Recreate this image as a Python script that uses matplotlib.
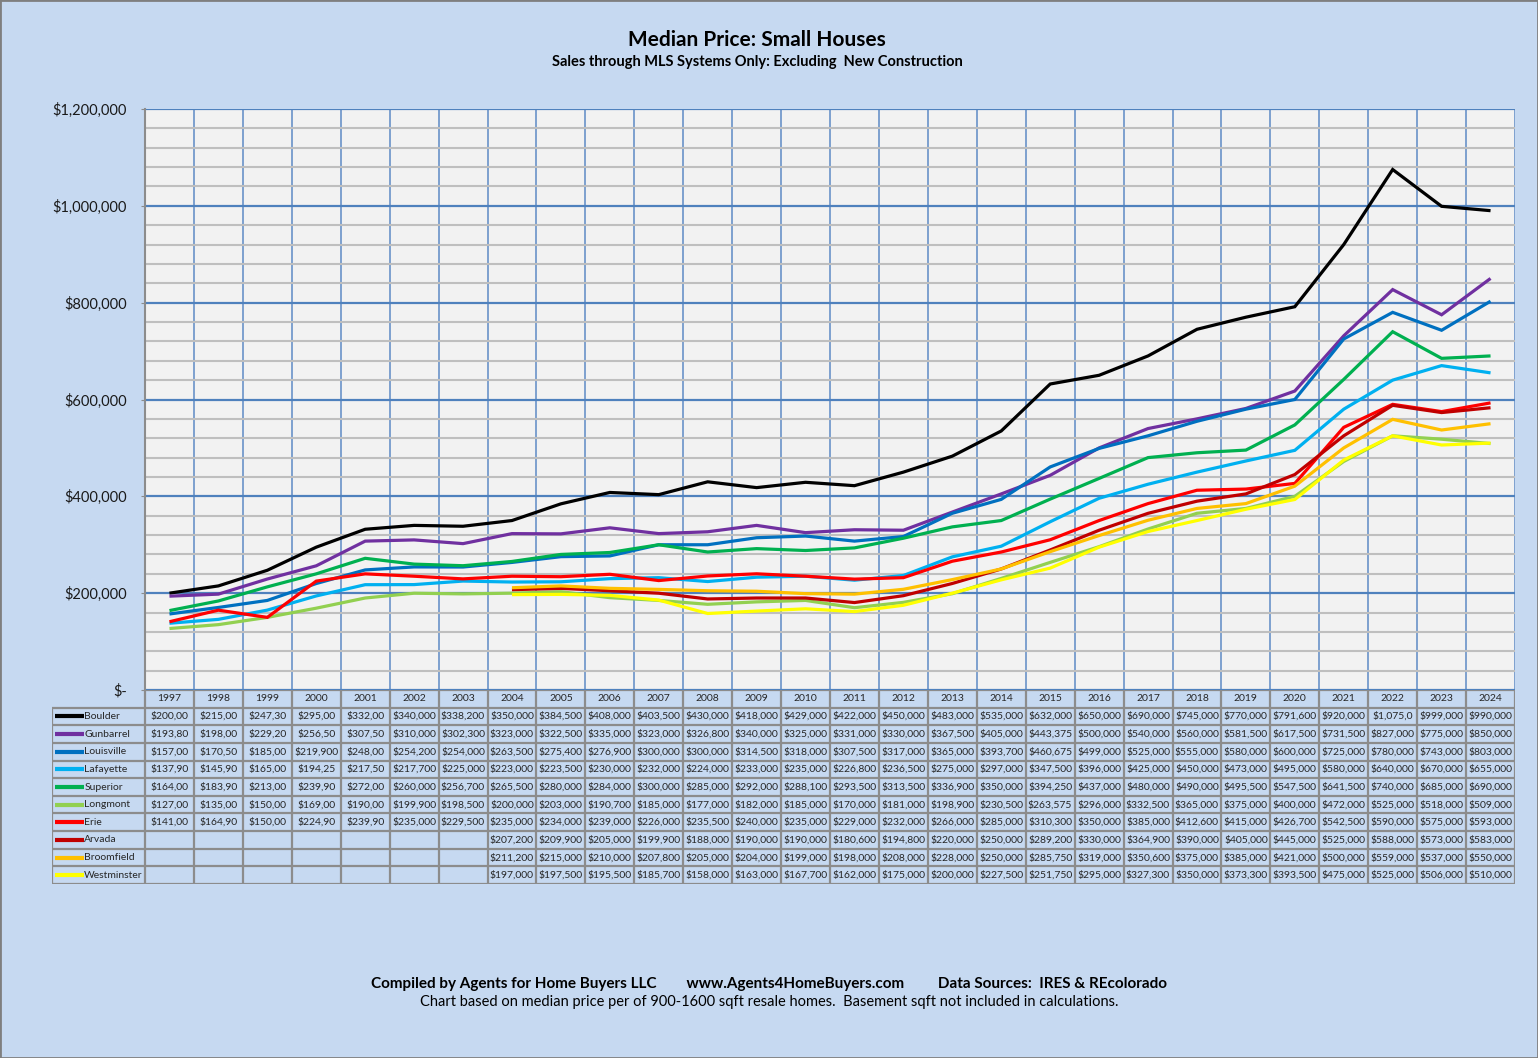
import numpy as np
import matplotlib
matplotlib.use("Agg")
import matplotlib.pyplot as plt
from matplotlib.ticker import MultipleLocator, FuncFormatter
from matplotlib.patches import Rectangle

plt.rcParams['font.family'] = ['Liberation Sans Narrow', 'Lato', 'DejaVu Sans']

years = list(range(1997, 2025))
nan = np.nan
pad = [nan] * 7  # 1997-2003 have no data for the later towns

boulder = [200000, 215000, 247300, 295000, 332000, 340000, 338200, 350000, 384500, 408000,
           403500, 430000, 418000, 429000, 422000, 450000, 483000, 535000, 632000, 650000,
           690000, 745000, 770000, 791600, 920000, 1075000, 999000, 990000]
gunbarrel = [193800, 198000, 229200, 256500, 307500, 310000, 302300, 323000, 322500, 335000,
             323000, 326800, 340000, 325000, 331000, 330000, 367500, 405000, 443375, 500000,
             540000, 560000, 581500, 617500, 731500, 827000, 775000, 850000]
louisville = [157000, 170500, 185000, 219900, 248000, 254200, 254000, 263500, 275400, 276900,
              300000, 300000, 314500, 318000, 307500, 317000, 365000, 393700, 460675, 499000,
              525000, 555000, 580000, 600000, 725000, 780000, 743000, 803000]
lafayette = [137900, 145900, 165000, 194250, 217500, 217700, 225000, 223000, 223500, 230000,
             232000, 224000, 233000, 235000, 226800, 236500, 275000, 297000, 347500, 396000,
             425000, 450000, 473000, 495000, 580000, 640000, 670000, 655000]
superior = [164000, 183900, 213000, 239900, 272000, 260000, 256700, 265500, 280000, 284000,
            300000, 285000, 292000, 288100, 293500, 313500, 336900, 350000, 394250, 437000,
            480000, 490000, 495500, 547500, 641500, 740000, 685000, 690000]
longmont = [127000, 135000, 150000, 169000, 190000, 199900, 198500, 200000, 203000, 190700,
            185000, 177000, 182000, 185000, 170000, 181000, 198900, 230500, 263575, 296000,
            332500, 365000, 375000, 400000, 472000, 525000, 518000, 509000]
erie = [141000, 164900, 150000, 224900, 239900, 235000, 229500, 235000, 234000, 239000,
        226000, 235500, 240000, 235000, 229000, 232000, 266000, 285000, 310300, 350000,
        385000, 412600, 415000, 426700, 542500, 590000, 575000, 593000]
arvada = pad + [207200, 209900, 205000, 199900, 188000, 190000, 190000, 180600, 194800, 220000,
                250000, 289200, 330000, 364900, 390000, 405000, 445000, 525000, 588000, 573000, 583000]
broomfield = pad + [211200, 215000, 210000, 207800, 205000, 204000, 199000, 198000, 208000, 228000,
                    250000, 285750, 319000, 350600, 375000, 385000, 421000, 500000, 559000, 537000, 550000]
westminster = pad + [197000, 197500, 195500, 185700, 158000, 163000, 167700, 162000, 175000, 200000,
                     227500, 251750, 295000, 327300, 350000, 373300, 393500, 475000, 525000, 506000, 510000]

names = ["Boulder", "Gunbarrel", "Louisville", "Lafayette", "Superior",
         "Longmont", "Erie", "Arvada", "Broomfield", "Westminster"]
series = [boulder, gunbarrel, louisville, lafayette, superior,
          longmont, erie, arvada, broomfield, westminster]
colors = ["#000000", "#7030A0", "#0070C0", "#00B0F0", "#00B050",
          "#92D050", "#FF0000", "#C00000", "#FFC000", "#FFFF00"]

BG = "#C6D9F1"
GRID_BLUE = "#4F81BD"
EDGE = "#8C8C8C"

W, H = 1538, 1058
fig = plt.figure(figsize=(W / 100, H / 100), dpi=100, facecolor=BG)
fig.patches.append(Rectangle((0, 0), 1, 1, transform=fig.transFigure, fill=False,
                             edgecolor="#7F7F7F", linewidth=2))

# plot area (pixel box 145..1515 x 109..690)
px_l, px_r, px_t, px_b = 145, 1515, 109, 690
ax = fig.add_axes([px_l / W, (H - px_b) / H, (px_r - px_l) / W, (px_b - px_t) / H])
ax.set_facecolor("#F2F2F2")
x = np.arange(len(years))
for name, vals, c in zip(names, series, colors):
    ax.plot(x, np.array(vals, dtype=float), color=c, lw=2.3, solid_capstyle="butt",
            solid_joinstyle="miter", label=name, zorder=3)

ax.set_xlim(-0.5, len(years) - 0.5)
ax.set_ylim(0, 1200000)
ax.yaxis.set_major_locator(MultipleLocator(200000))
ax.yaxis.set_minor_locator(MultipleLocator(40000))
ax.yaxis.set_major_formatter(FuncFormatter(lambda v, p: "$-" if v == 0 else f"${v:,.0f}"))
ax.set_xticks(np.arange(-0.5, len(years), 1), minor=False)
ax.set_xticklabels([])
ax.tick_params(axis="x", length=0)
ax.tick_params(axis="y", which="major", length=3, color=EDGE, labelsize=10.5, pad=10,
               labelcolor="#1a1a1a")
ax.tick_params(axis="y", which="minor", length=0)
ax.grid(axis="y", which="minor", color="#BFBFBF", lw=1.5, zorder=1)
ax.grid(axis="y", which="major", color=GRID_BLUE, lw=1.6, zorder=2)
ax.grid(axis="x", which="major", color="#6A93C9", lw=1.2, zorder=2)
for s in ["top", "right"]:
    ax.spines[s].set_visible(False)
ax.spines["left"].set_color(EDGE)
ax.spines["left"].set_linewidth(1.5)
ax.spines["bottom"].set_visible(False)

# data table underneath, drawn on an axes sharing the same category scale
tb_l, tb_b = 52, 884
n_rows = len(names) + 1
cat_px = (px_r - px_l) / len(years)
x_left = -0.5 - (px_l - tb_l) / cat_px
tax = fig.add_axes([tb_l / W, (H - tb_b) / H, (px_r - tb_l) / W, (tb_b - px_b) / H])
tax.set_xlim(x_left, len(years) - 0.5)
tax.set_ylim(n_rows, 0)
tax.axis("off")
tax.add_patch(Rectangle((-0.5, 0), len(years), 1, facecolor=BG, edgecolor="none"))
tax.add_patch(Rectangle((x_left, 1), len(years) - 0.5 - x_left, n_rows - 1,
                        facecolor=BG, edgecolor="none"))
lw_t = 1.6
tax.hlines(0, -0.5, len(years) - 0.5, color=EDGE, lw=lw_t)
tax.hlines(np.arange(1, n_rows + 1), x_left, len(years) - 0.5, color=EDGE, lw=lw_t)
tax.vlines(np.arange(-0.5, len(years)), 0, n_rows, color=EDGE, lw=lw_t)
tax.vlines(x_left, 1, n_rows, color=EDGE, lw=lw_t)

fs_t = 7.5
for i, yr in enumerate(years):
    tax.text(i, 0.5, str(yr), ha="center", va="center", fontsize=fs_t, color="#262626")

for r, (name, vals, c) in enumerate(zip(names, series, colors), start=1):
    tax.plot([x_left + 0.07, x_left + 0.65], [r + 0.5, r + 0.5], color=c, lw=3,
             solid_capstyle="butt")
    tax.text(x_left + 0.66, r + 0.5, name, ha="left", va="center", fontsize=fs_t,
             color="#262626")
    for i, v in enumerate(vals):
        if np.isnan(v):
            continue
        s = f"${v:,.0f}"
        # the source table clips the early columns and the widest value
        if years[i] <= 2001 and not (name == "Louisville" and years[i] == 2000):
            s = s[:7]
        s = s[:8]
        tax.text(i, r + 0.5, s, ha="center", va="center", fontsize=fs_t, color="#262626")

# titles and footer
cx = 757 / W
fig.text(cx, 1 - 40 / H, "Median Price: Small Houses", ha="center", va="center",
         fontsize=15, fontweight="bold", color="#000000")
fig.text(cx, 1 - 62 / H, "Sales through MLS Systems Only: Excluding  New Construction",
         ha="center", va="center", fontsize=10.5, fontweight="bold", color="#000000")
fig.text(769 / W, 1 - 984 / H,
         "Compiled by Agents for Home Buyers LLC        www.Agents4HomeBuyers.com"
         "         Data Sources:  IRES & REcolorado",
         ha="center", va="center", fontsize=11, fontweight="bold", color="#000000")
fig.text(769 / W, 1 - 1002 / H,
         "Chart based on median price per of 900-1600 sqft resale homes.  "
         "Basement sqft not included in calculations.",
         ha="center", va="center", fontsize=10.5, color="#000000")

fig.savefig("out.png", dpi=100, facecolor=BG)
